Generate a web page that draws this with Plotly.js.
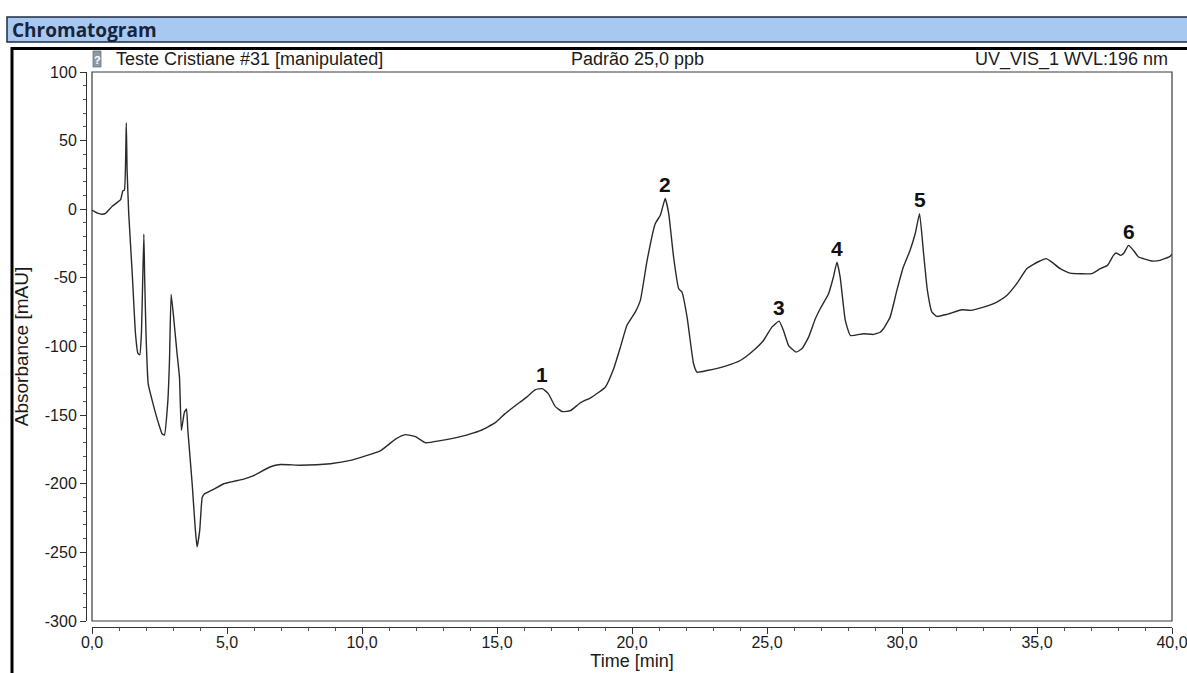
<!DOCTYPE html>
<html>
<head>
<meta charset="utf-8">
<script src="https://cdn.plot.ly/plotly-3.0.1.min.js"></script>
<style>html,body{margin:0;padding:0;background:#fff;}#chart{width:1187px;height:673px;}</style>
</head>
<body>
<div id="chart"></div>
<script>
// ---- data ----
var timeMin = [0.00,0.20,0.38,0.50,0.75,1.06,1.14,1.20,1.27,1.30,1.36,1.49,1.61,1.70,1.77,1.83,1.92,1.95,2.00,2.08,2.23,2.47,2.60,2.68,2.81,2.87,2.93,3.01,3.15,3.24,3.31,3.42,3.50,3.55,3.71,3.82,3.89,3.99,4.08,4.16,4.51,4.88,5.62,5.99,6.61,6.98,7.72,8.83,9.57,10.68,11.24,11.60,11.98,12.35,12.90,13.64,14.38,14.94,15.30,15.68,16.12,16.42,16.68,16.90,17.16,17.42,17.72,18.09,18.50,19.01,19.32,19.57,19.81,20.12,20.31,20.56,20.86,21.05,21.23,21.36,21.54,21.73,21.85,22.04,22.28,22.41,22.78,23.52,24.01,24.50,24.87,25.18,25.45,25.61,25.80,26.08,26.29,26.54,26.79,26.97,27.28,27.46,27.59,27.71,27.90,28.09,28.57,28.94,29.19,29.31,29.56,29.81,30.05,30.30,30.49,30.65,30.80,30.94,31.11,31.29,31.66,32.22,32.53,33.02,33.51,33.88,34.25,34.62,34.87,35.11,35.34,35.55,35.86,36.23,37.03,37.34,37.61,37.83,37.93,38.10,38.22,38.39,38.57,38.76,38.94,39.25,39.56,39.93,40.00];
var absorbance = [-0.7,-2.8,-3.6,-3.0,2.2,7.0,13.4,13.9,63.0,28.5,-3.0,-46.7,-90.5,-105,-106,-90.5,-18.2,-49.4,-90.5,-127,-139.4,-156.4,-163.7,-164.5,-139.4,-110,-62,-76,-105,-122.4,-161,-148,-145.5,-161,-200,-231.5,-246,-234,-210,-207.5,-204,-200,-196.6,-194,-187.6,-186,-186.5,-185.4,-183,-176,-167.5,-164.2,-165.7,-170.1,-168.6,-165.7,-161.3,-155.5,-148.9,-143.1,-136.5,-131.4,-130.7,-134.3,-143.8,-147.4,-146.7,-141,-137,-129.7,-116.3,-100.5,-84.7,-75,-66.4,-37.2,-10.5,-4.4,7.8,-3.2,-34.8,-57.9,-60.3,-78.6,-112.6,-118.7,-117.5,-113.9,-110.2,-102.9,-95.6,-85.9,-81.5,-88.3,-99.3,-104.1,-101.7,-93.2,-79.8,-72.5,-61.5,-49.4,-38.5,-49.4,-81,-92,-90.7,-91.2,-89.6,-87.1,-78.6,-59.1,-42.1,-29.9,-17.7,-3.2,-32.3,-59.1,-75,-78.1,-76.6,-73.2,-73.7,-71.3,-67.6,-62.8,-54.2,-43.3,-40.1,-37.7,-36,-38.5,-43.3,-46.5,-46.9,-43.3,-40.9,-33.6,-31.9,-33.6,-31.9,-26.3,-29.9,-34.8,-36,-37.7,-37.2,-34.3,-32.8];
var peakLabels = ['1','2','3','4','5','6'];
var peakTimes = [16.68,21.23,25.45,27.59,30.65,38.39];
var peakValues = [-130.7,7.8,-81.5,-38.5,-3.2,-26.3];
var xTickVals = [0,5,10,15,20,25,30,35,40];
var xTickText = ['0,0','5,0','10,0','15,0','20,0','25,0','30,0','35,0','40,0'];
var yTickVals = [100,50,0,-50,-100,-150,-200,-250,-300];
var yTickText = ['100','50','0','-50','-100','-150','-200','-250','-300'];
var headerTitle = 'Chromatogram';
var sampleName = 'Teste Cristiane #31 [manipulated]';
var sampleInfo = 'Padrão 25,0 ppb';
var channelInfo = 'UV_VIS_1 WVL:196 nm';

// ---- layout helpers (pixel -> paper) ----
var W = 1187, H = 673, ML = 86, MR = 15, MT = 72, MB = 46;
var PW = W - ML - MR, PH = H - MT - MB;
function px(x){ return (x - ML) / PW; }
function py(y){ return (H - MB - y) / PH; }

var FONT = 'Liberation Sans, Arial, sans-serif';
var ink = '#1b1b1b';

var trace = {
  x: timeMin, y: absorbance, type: 'scatter', mode: 'lines',
  line: {color: '#2a2a2a', width: 1.4, shape: 'spline', smoothing: 0.4},
  hoverinfo: 'x+y', showlegend: false
};

var annotations = peakLabels.map(function(lab, i){
  return {x: peakTimes[i], y: peakValues[i], xref: 'x', yref: 'y', text: '<b>' + lab + '</b>',
    showarrow: false, yanchor: 'middle', yshift: 14, font: {family: FONT, size: 21, color: '#111'}};
});
annotations.push(
  {xref:'paper', yref:'paper', x: px(10), y: py(30), xanchor:'left', yanchor:'middle', showarrow:false,
   text:'<b>' + headerTitle + '</b>', font:{family:'Open Sans, sans-serif', size:19, color:'#18233d'}},
  {xref:'paper', yref:'paper', x: px(114), y: py(59), xanchor:'left', yanchor:'middle', showarrow:false,
   text: sampleName, font:{family:FONT, size:18, color:ink}},
  {xref:'paper', yref:'paper', x: px(637), y: py(59), xanchor:'center', yanchor:'middle', showarrow:false,
   text: sampleInfo, font:{family:FONT, size:18, color:ink}},
  {xref:'paper', yref:'paper', x: px(1170), y: py(59), xanchor:'right', yanchor:'middle', showarrow:false,
   text: channelInfo, font:{family:FONT, size:18, color:ink}},
  {xref:'paper', yref:'paper', x: px(97), y: py(59.5), xanchor:'center', yanchor:'middle', showarrow:false,
   text: '<b>?</b>', font:{family:FONT, size:11, color:'#ffffff'}}
);

var shapes = [
  // header bar
  {type:'rect', xref:'paper', yref:'paper', x0: px(7), x1: px(1195), y0: py(42), y1: py(17),
   fillcolor:'#a7c9ef', line:{color:'#1d2b47', width:1.5}, layer:'below'},
  // outer black frame
  {type:'line', xref:'paper', yref:'paper', x0: px(11), x1: px(1195), y0: py(48.5), y1: py(48.5),
   line:{color:'#000', width:3}},
  {type:'line', xref:'paper', yref:'paper', x0: px(12), x1: px(12), y0: py(47), y1: py(680),
   line:{color:'#000', width:3}},
  // icon
  {type:'rect', xref:'paper', yref:'paper', x0: px(93), x1: px(101), y0: py(67), y1: py(51),
   fillcolor:'#8d9aa6', line:{color:'#6b7782', width:0.8}},
  // plot frame
  {type:'rect', xref:'x domain', yref:'y domain', x0: 0, x1: 1, y0: 0, y1: 1,
   fillcolor:'rgba(0,0,0,0)', line:{color:'#3a3a3a', width:1.2}}
];

var layout = {
  width: W, height: H,
  margin: {l: ML, r: MR, t: MT, b: MB, pad: 0},
  paper_bgcolor: '#fff', plot_bgcolor: '#fff',
  showlegend: false,
  font: {family: FONT, color: ink},
  xaxis: {
    domain: [6 / PW, 1], range: [0, 40], anchor: 'free', position: 0,
    showgrid: false, zeroline: false, showline: true, linecolor: '#333', linewidth: 1.2,
    ticks: 'outside', ticklen: 6, tickwidth: 1, tickcolor: '#333',
    tickvals: xTickVals, ticktext: xTickText, tickfont: {family: FONT, size: 16, color: ink},
    ticklabelstandoff: -5, ticklabeloverflow: 'allow',
    minor: {dtick: 1, ticks: 'outside', ticklen: 3, tickcolor: '#555', showgrid: false},
    title: {text: 'Time [min]', font: {family: FONT, size: 18, color: ink}, standoff: 0},
    automargin: false, fixedrange: true
  },
  yaxis: {
    domain: [6 / PH, 1], range: [-300, 100], anchor: 'free', position: 0,
    showgrid: false, zeroline: false, showline: true, linecolor: '#333', linewidth: 1.2,
    ticks: 'outside', ticklen: 6, tickwidth: 1, tickcolor: '#333',
    tickvals: yTickVals, ticktext: yTickText, tickfont: {family: FONT, size: 16, color: ink},
    ticklabeloverflow: 'allow',
    minor: {dtick: 10, ticks: 'outside', ticklen: 3, tickcolor: '#555', showgrid: false},
    title: {text: 'Absorbance [mAU]', font: {family: FONT, size: 19, color: ink}, standoff: 10},
    automargin: false, fixedrange: true
  },
  shapes: shapes,
  annotations: annotations
};

Plotly.newPlot('chart', [trace], layout, {displayModeBar: false, staticPlot: true});
</script>
</body>
</html>
